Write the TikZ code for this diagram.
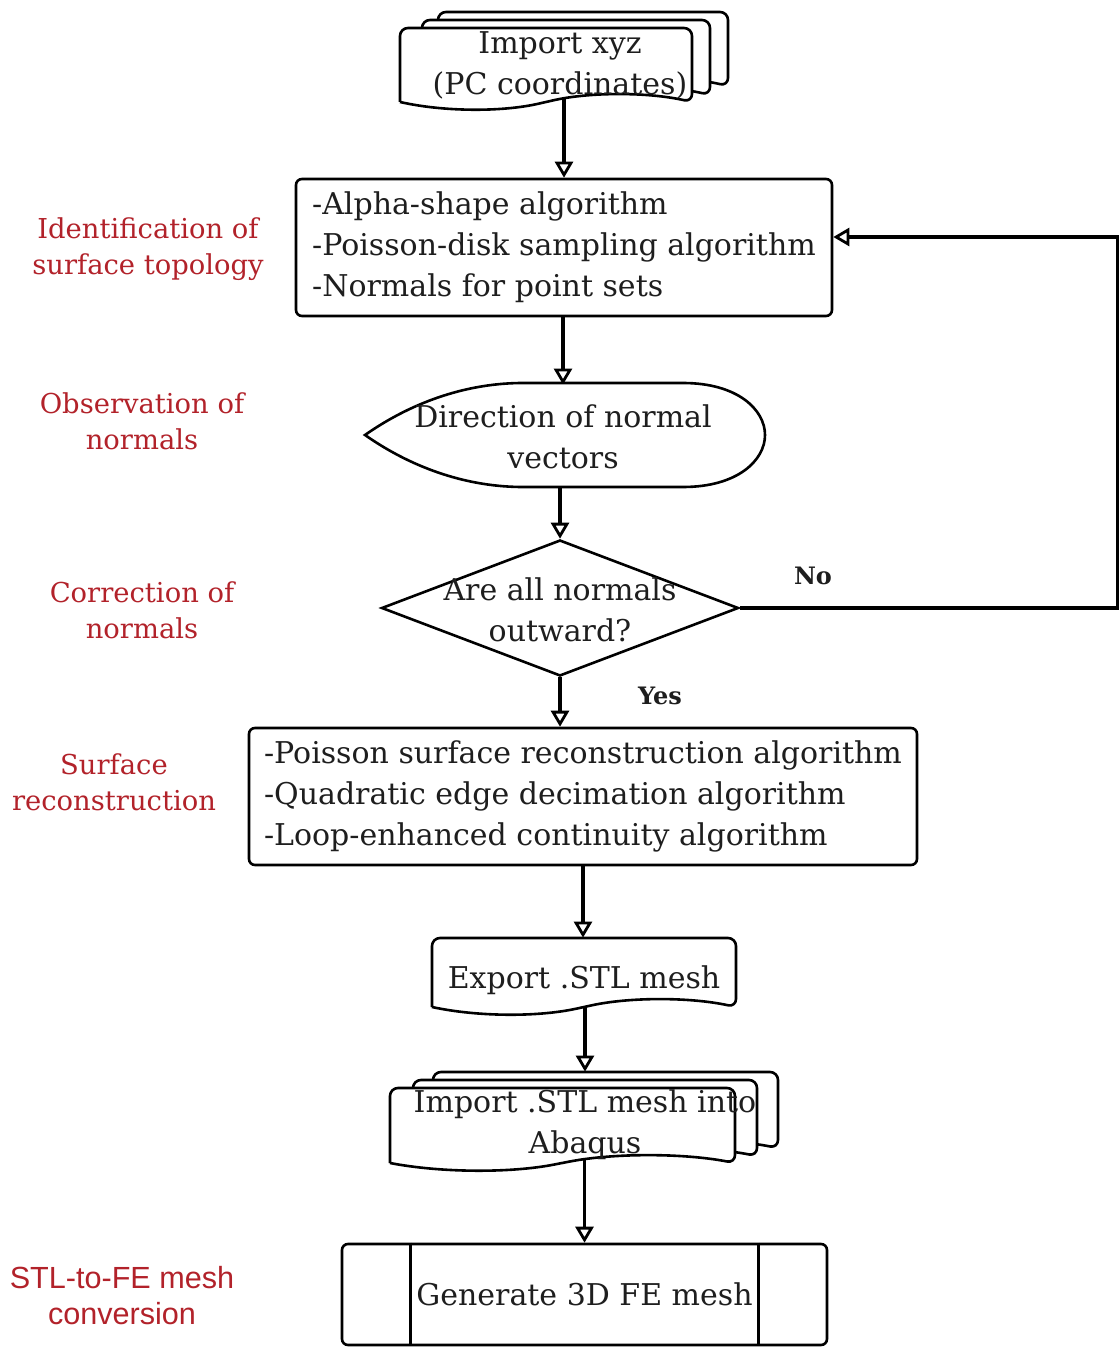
\documentclass[tikz,border=0pt]{standalone}
\usepackage{fontspec}
\setmainfont{DejaVu Serif}
\newfontfamily\labelsans{Liberation Sans}
\usetikzlibrary{arrows.meta,shapes.geometric,calc}
\pgfdeclarelayer{bg}
\pgfsetlayers{bg,main}
\definecolor{stagered}{RGB}{178,34,42}
\definecolor{ink}{RGB}{30,30,30}
\begin{document}
\begin{tikzpicture}[x=0.5pt,y=-0.5pt,
  outline/.style={draw=black,line width=1.3pt,fill=white},
  boxtext/.style={font=\fontsize{15}{20.5}\selectfont,text=ink,align=center},
  procbox/.style={outline,rounded corners=3pt,inner sep=0pt,align=left,
    font=\fontsize{15}{20.5}\selectfont,text=ink},
  flow/.style={draw=black,line width=1.7pt,
    -{Triangle[open,length=8pt,width=9pt,line width=1.4pt]}},
  stage/.style={font=\fontsize{13.7}{18}\selectfont,text=stagered,align=center},
  answer/.style={font=\bfseries\fontsize{12}{14}\selectfont,text=ink},
]
\useasboundingbox (0,0) rectangle (1118,1347);

% ---------- stacked document: point cloud input ----------
\begin{scope}[rounded corners=4pt]
  \path[outline] (438,86) -- (438,12) -- (728,12) -- (728,86)
     .. controls (685,76) and (625,76) .. (583,86)
     .. controls (540,96) and (480,96) .. (438,86);
  \path[outline] (422,95) -- (422,20) -- (710,20) -- (710,95)
     .. controls (667,85) and (609,85) .. (566,95)
     .. controls (523,105) and (465,105) .. (422,95);
  \path[outline] (400,102) -- (400,28) -- (692,28) -- (692,102)
     .. controls (648,92) and (590,92) .. (546,102)
     .. controls (502,112) and (444,112) .. (400,102);
\end{scope}
\node[boxtext,minimum width=140pt,minimum height=40pt,inner sep=0pt]
  (imp) at (560,65) {Import xyz\\(PC coordinates)};

% ---------- surface topology algorithms ----------
\node[procbox,minimum width=268pt,minimum height=68.5pt]
  (alg) at (564,247.5)
  {-Alpha-shape algorithm\\-Poisson-disk sampling algorithm\\-Normals for point sets};

% ---------- display: direction of normals ----------
\path[outline] (523,383) -- (683,383)
   .. controls (738,383) and (765,410) .. (765,435)
   .. controls (765,460) and (738,487) .. (683,487)
   -- (523,487)
   .. controls (470,487) and (415,470) .. (365,435)
   .. controls (415,400) and (470,383) .. (523,383) -- cycle;
\node[boxtext,minimum width=200pt,minimum height=52pt,inner sep=0pt]
  (disp) at (563,437) {Direction of normal\\vectors};

% ---------- decision ----------
\node[diamond,outline,minimum width=178.5pt,minimum height=68pt,inner sep=0pt]
  (dec) at (560,608) {};
\node[boxtext,inner sep=0pt] (dectext) at (560,610) {Are all normals\\outward?};

% ---------- surface reconstruction ----------
\node[procbox,minimum width=334pt,minimum height=68.5pt]
  (rec) at (583,796.5)
  {-Poisson surface reconstruction algorithm\\-Quadratic edge decimation algorithm\\-Loop-enhanced continuity algorithm};

% ---------- document: export ----------
\path[outline,rounded corners=4pt] (432,1007) -- (432,938) -- (736,938) -- (736,1007)
   .. controls (690,997) and (630,997) .. (584,1007)
   .. controls (538,1017) and (478,1017) .. (432,1007);
\node[boxtext,minimum width=140pt,minimum height=42pt,inner sep=0pt]
  (exp) at (584,980) {Export .STL mesh};

% ---------- stacked document: import into Abaqus ----------
\begin{scope}[rounded corners=4pt]
  \path[outline] (433,1148) -- (433,1072) -- (778,1072) -- (778,1148)
     .. controls (727,1138) and (657,1138) .. (606,1148)
     .. controls (555,1158) and (485,1158) .. (433,1148);
  \path[outline] (413,1156) -- (413,1080) -- (757,1080) -- (757,1156)
     .. controls (706,1146) and (636,1146) .. (585,1156)
     .. controls (534,1166) and (464,1166) .. (413,1156);
  \path[outline] (390,1163) -- (390,1088) -- (735,1088) -- (735,1163)
     .. controls (683,1153) and (614,1153) .. (562,1163)
     .. controls (511,1173) and (442,1173) .. (390,1163);
\end{scope}
\node[boxtext,minimum width=170pt,minimum height=53pt,inner sep=0pt]
  (imp2) at (585,1125) {Import .STL mesh into\\Abaqus};

% ---------- predefined process: FE mesh ----------
\node[outline,rounded corners=3pt,minimum width=242.5pt,minimum height=50.5pt,
  inner sep=0pt,font=\fontsize{15}{20.5}\selectfont,text=ink]
  (gen) at (584.5,1294.5) {Generate 3D FE mesh};
\draw[line width=1.3pt] ([xshift=35pt]gen.north west) -- ([xshift=35pt]gen.south west);
\draw[line width=1.3pt] ([xshift=-35pt]gen.north east) -- ([xshift=-35pt]gen.south east);

% ---------- connectors ----------
\begin{pgfonlayer}{bg}
  \draw[flow] (alg.north |- imp.center) -- (alg.north);
  \draw[flow] (disp.north |- alg.center) -- (disp.north);
  \draw[flow] (dec.north |- disp.center) -- (dec.north);
  \draw[flow] (dec.south) -- (dec.south |- rec.north);
  \draw[flow] (rec.center) -- (rec.center |- exp.north);
  \draw[flow] (imp2.north |- exp.center) -- (imp2.north);
  \draw[flow] (gen.north |- imp2.center) -- (gen.north);
\end{pgfonlayer}
\coordinate (fbx) at (1117.5,0);
\coordinate (fbin) at ([yshift=5.25pt]alg.east);
\draw[flow] (dec.east) -| (fbx |- fbin) -- (fbin);

\node[answer] (no) at (813,576) {No};
\node[answer] (yes) at (660,696) {Yes};

% ---------- stage labels ----------
\node[stage] (l1) at (148,249) {Identification of\\surface topology};
\node[stage] (l2) at (142,421) {Observation of\\normals};
\node[stage] (l3) at (142,610) {Correction of\\normals};
\node[stage] (l4) at (114,782) {Surface\\reconstruction};
\node[stage,font=\labelsans\fontsize{15.3}{18}\selectfont] (l5) at (122,1296)
  {STL-to-FE mesh\\conversion};
\end{tikzpicture}
\end{document}
